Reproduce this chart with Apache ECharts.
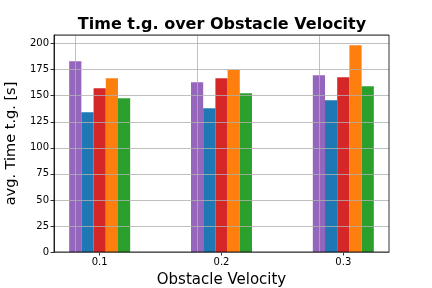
<!DOCTYPE html>
<html><head><meta charset="utf-8">
<script src="https://cdn.jsdelivr.net/npm/echarts@6/dist/echarts.min.js"></script>
<style>html,body{margin:0;padding:0;background:#fff}#c{width:432px;height:288px}</style>
</head><body><div id="c"></div>
<script>
const velocities = [0.1, 0.2, 0.3];
const tickLabels = ['0.1', '0.2', '0.3'];
const seriesA = [183.0, 162.9, 169.6]; // purple
const seriesB = [134.2, 138.0, 145.7]; // blue
const seriesC = [157.2, 166.8, 167.7]; // red
const seriesD = [166.8, 174.7, 198.4]; // orange
const seriesE = [147.6, 152.4, 159.1]; // green
const yTicks = [0, 25, 50, 75, 100, 125, 150, 175, 200];

const colors = ['#9467bd', '#1f77b4', '#d62728', '#ff7f0e', '#2ca02c'];
const all = [seriesA, seriesB, seriesC, seriesD, seriesE];
const font = 'DejaVu Sans';

const series = all.map((vals, i) => {
  const s = {
    type: 'bar',
    data: vals.map((v, j) => [velocities[j], v]),
    barWidth: 12.2,
    barGap: '0%',
    itemStyle: { color: colors[i] },
    silent: true,
    animation: false
  };
  if (i === 0) {
    s.markLine = {
      silent: true, symbol: 'none', animation: false, z: 10,
      label: { show: false },
      lineStyle: { color: '#b0b0b0', width: 0.8, type: 'solid' },
      data: velocities.map(v => ({ xAxis: v }))
    };
  }
  return s;
});

const chart = echarts.init(document.getElementById('c'), null, { renderer: 'canvas' });
chart.setOption({
  animation: false,
  title: {
    text: 'Time t.g. over Obstacle Velocity',
    left: 217, top: 12, textAlign: 'center',
    textStyle: { fontFamily: font, fontWeight: 'bold', fontSize: 16, color: '#000' }
  },
  grid: { left: 54, right: 43, top: 35, bottom: 36, show: true, borderColor: '#000', borderWidth: 0.8, z: 12,
    outerBoundsMode: 'none', containLabel: false },
  xAxis: {
    type: 'value', min: 0.0625, max: 0.3375,
    name: 'Obstacle Velocity', nameLocation: 'middle', nameGap: 21,
    nameTextStyle: { fontFamily: font, fontSize: 15, color: '#000' },
    axisLine: { show: true, lineStyle: { color: '#000', width: 0.8 } },
    axisTick: { show: true, length: 3.5, lineStyle: { color: '#000', width: 0.8 }, customValues: velocities },
    axisLabel: { fontFamily: font, fontSize: 10, color: '#000', margin: 5, customValues: velocities,
      formatter: v => tickLabels[velocities.findIndex(x => Math.abs(x - v) < 1e-9)] || '' },
    splitLine: { show: false }
  },
  yAxis: {
    type: 'value', min: 0, max: 208.3, interval: 25, z: 11,
    name: 'avg. Time t.g. [s]', nameLocation: 'middle', nameGap: 29, nameRotate: 90,
    nameTextStyle: { fontFamily: font, fontSize: 14.5, color: '#000' },
    axisLine: { show: true, lineStyle: { color: '#000', width: 0.8 } },
    axisTick: { show: true, length: 3.5, lineStyle: { color: '#000', width: 0.8 } },
    axisLabel: { fontFamily: font, fontSize: 10, color: '#000', margin: 5, showMaxLabel: false,
      formatter: v => yTicks.includes(v) ? String(v) : '' },
    splitLine: { show: true, lineStyle: { color: '#b0b0b0', width: 0.8 } }
  },
  series: series
});
</script></body></html>
